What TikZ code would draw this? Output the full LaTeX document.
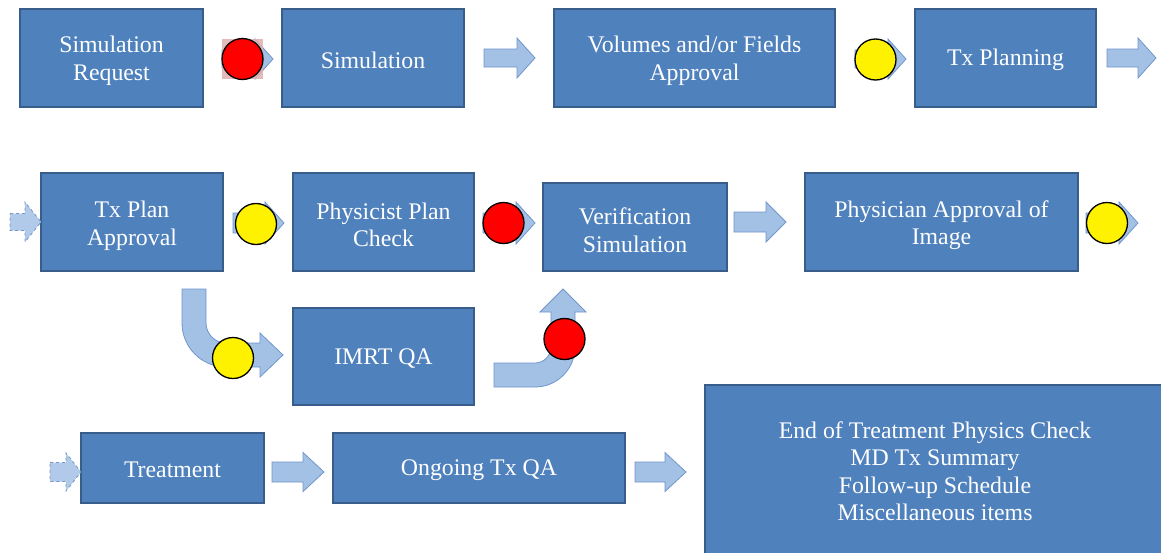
\documentclass[tikz,border=0pt]{standalone}
\usepackage{fontspec}
\setmainfont{Liberation Serif}
\usetikzlibrary{calc}
\definecolor{boxfill}{HTML}{4F81BD}
\definecolor{boxline}{HTML}{385D8A}
\definecolor{arrfill}{RGB}{163,193,229}
\definecolor{arrline}{RGB}{112,150,204}
\definecolor{pinksq}{RGB}{224,176,176}
% #1 style, #2 tail coordinate, #3 length, #4 head length, #5 shaft half width, #6 head half width
\newcommand{\blockarr}[6][]{%
  \path[arrowshape,#1] ($(#2)+(0,-#5)$) -- ++({#3-#4},0) -- ++(0,{#5-#6})
    -- ++(#4,#6) -- ++(-#4,#6) -- ++(0,{#5-#6}) -- ++({#4-#3},0) -- cycle;}
\begin{document}
\begin{tikzpicture}[x=1pt,y=-1pt,
  box/.style={draw=boxline, fill=boxfill, line width=1.8pt,
    inner sep=0pt, outer sep=0pt, anchor=north west},
  txt/.style={text=white, align=center, inner sep=0pt, font=\fontsize{23.8}{27.5}\selectfont},
  arrowshape/.style={draw=arrline, fill=arrfill, line width=0.8pt},
  dashedshape/.style={dashed, fill=arrfill!85!white},
  yel/.style={circle, draw=black, line width=1.3pt, fill=yellow, minimum size=41pt, inner sep=0pt},
  redc/.style={yel, fill=red}
]
\useasboundingbox (0,0) rectangle (1161,552);
\fill[white] (0,0) rectangle (1161,552);

% Row 1
\node[box, minimum width=183pt, minimum height=98pt] (A) at (20,9) {};
\node[box, minimum width=182pt, minimum height=98pt] (B) at (282,9) {};
\node[box, minimum width=281pt, minimum height=98pt] (C) at (554,9) {};
\node[box, minimum width=181pt, minimum height=98pt] (D) at (915,9) {};
% Row 2
\node[box, minimum width=182pt, minimum height=98pt] (E) at (41,173) {};
\node[box, minimum width=181pt, minimum height=98pt] (F) at (293,173) {};
\node[box, minimum width=184pt, minimum height=88pt] (G) at (543,183) {};
\node[box, minimum width=273pt, minimum height=98pt] (H) at (805,173) {};
% Row 3
\node[box, minimum width=181pt, minimum height=97pt] (I) at (293,308) {};
% Row 4
\node[box, minimum width=183pt, minimum height=70pt] (J) at (81,433) {};
\node[box, minimum width=292pt, minimum height=70pt] (K) at (333,433) {};
\node[box, minimum width=460pt, minimum height=172pt] (L) at (705,385) {};

% texts
\node[txt] (tA) at ($(A.center)+(0,3)$) {Simulation\\Request};
\node[txt] (tB) at ($(B.center)+(0,2)$) {Simulation};
\node[txt] (tC) at ($(C.center)+(0,3)$) {Volumes and/or Fields\\Approval};
\node[txt] (tD) at ($(D.center)+(0,2)$) {Tx Planning};
\node[txt] (tE) at ($(E.center)+(0,4)$) {Tx Plan\\Approval};
\node[txt] (tF) at ($(F.center)+(0,3)$) {Physicist Plan\\Check};
\node[txt] (tG) at ($(G.center)+(0,3)$) {Verification\\Simulation};
\node[txt] (tH) at ($(H.center)+(0,3)$) {Physician Approval of\\Image};
\node[txt] (tI) at ($(I.center)+(0,2)$) {IMRT QA};
\node[txt] (tJ) at ($(J.center)+(0,2)$) {Treatment};
\node[txt] (tK) at ($(K.center)+(0,2)$) {Ongoing Tx QA};
\node[txt] (tL) at ($(L.center)+(0,0)$)
  {End of Treatment Physics Check\\MD Tx Summary\\Follow-up Schedule\\Miscellaneous items};

% plain block arrows
\coordinate (tBC) at ($(B.east)+(20,0)$);
\blockarr{tBC}{51}{18}{9}{20}
\coordinate (tDx) at ($(D.east)+(11,0)$);
\blockarr{tDx}{49}{18}{9}{20}
\coordinate (tGH) at ($(G.east |- H.east)+(7,0)$);
\blockarr{tGH}{52}{20}{10}{20}
\coordinate (tJK) at ($(J.east)+(8,4)$);
\blockarr{tJK}{52}{21}{10}{19.5}
\coordinate (tKL) at ($(K.east)+(10,4)$);
\blockarr{tKL}{51}{21}{10}{19.5}

% dashed incoming arrows
\coordinate (tinE) at ($(E.west)+(-31,0)$);
\blockarr[dashedshape]{tinE}{31}{16}{8.5}{20}
\coordinate (tinJ) at ($(J.west)+(-31,4)$);
\blockarr[dashedshape]{tinJ}{31}{15}{9.5}{19}

% arrows behind circles
\coordinate (tAB) at ($(A.east)+(19,1)$);
\blockarr{tAB}{51}{18}{9}{20}
\fill[pinksq, opacity=0.85] (222,39) rectangle (263,79);
\node[redc] (cAB) at (242.5,59) {};

\coordinate (tCD) at ($(C.east)+(20,1)$);
\blockarr{tCD}{51}{18}{9}{20}
\node[yel] (cCD) at (875.5,59.5) {};

\coordinate (tEF) at ($(E.east)+(10,1)$);
\blockarr{tEF}{51}{19}{10}{21}
\node[yel] (cEF) at (256,224) {};

\coordinate (tFG) at ($(F.east)+(9,1)$);
\blockarr{tFG}{52}{19}{10}{21}
\node[redc] (cFG) at (503.5,223) {};

\coordinate (tHx) at ($(H.east)+(8,1)$);
\blockarr{tHx}{52}{19}{10}{21}
\node[yel] (cH) at (1107,223) {};

% bent arrow Tx Plan Approval -> IMRT QA
\path[arrowshape] (182,289) -- (182,323)
  .. controls (182,347.3) and (201.7,367) .. (226,367)
  -- (260,367) -- (260,377) -- (283,355) -- (260,333) -- (260,343) -- (226,343)
  .. controls (215,343) and (206,334) .. (206,323) -- (206,289) -- cycle;
\node[yel] (cEI) at (233,358) {};

% bent arrow IMRT QA -> Verification Simulation
\path[arrowshape] (494,363) -- (535,363)
  .. controls (543.8,363) and (551,355.8) .. (551,347)
  -- (551,312) -- (540,312) -- (563,289) -- (586,312) -- (575,312) -- (575,347)
  .. controls (575,369.1) and (557.1,387) .. (535,387) -- (494,387) -- cycle;
\node[redc] (cIG) at (564.5,339) {};
\end{tikzpicture}
\end{document}
